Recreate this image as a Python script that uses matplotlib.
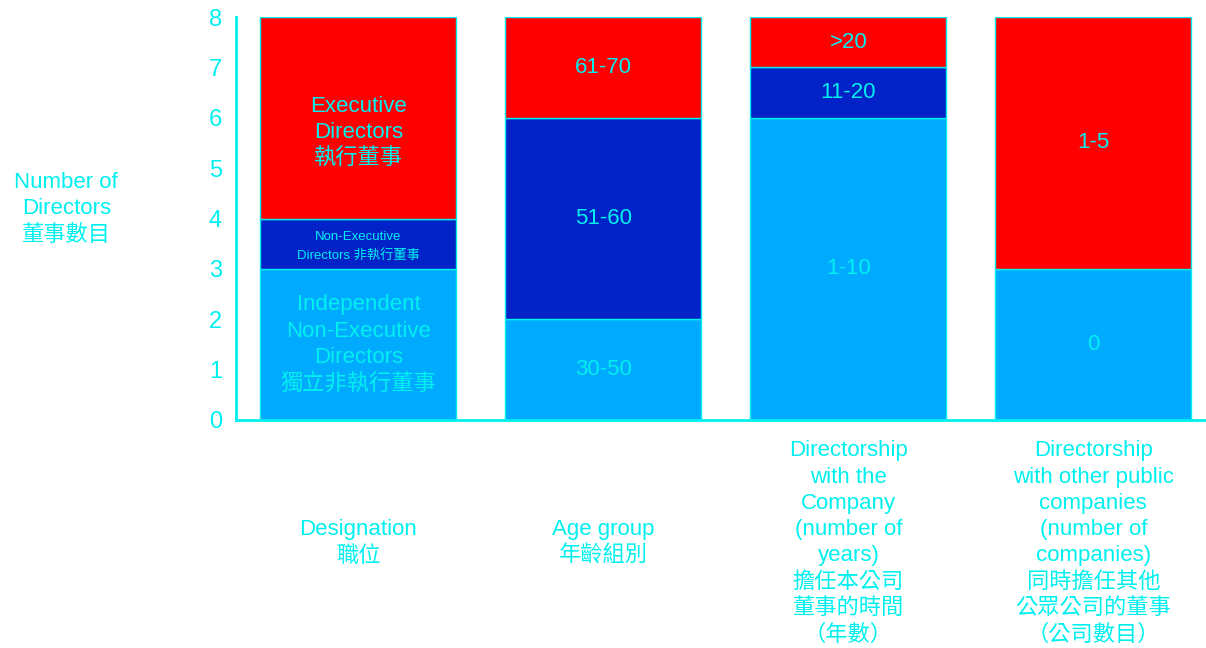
import matplotlib.pyplot as plt
from matplotlib.transforms import blended_transform_factory

plt.rcParams['font.family'] = ['Liberation Sans', 'Noto Sans CJK TC', 'DejaVu Sans']

# Datos del gráfico
categorias = ['Designation\n職位',
              'Age group\n年齡組別',
              'Directorship\nwith the\nCompany\n(number of\nyears)\n擔任本公司\n董事的時間\n（年數）',
              'Directorship\nwith other public\ncompanies\n(number of\ncompanies)\n同時擔任其他\n公眾公司的董事\n（公司數目）']
inferior = [3, 2, 6, 3]
medio = [1, 4, 1, 0]
superior = [4, 2, 1, 5]
etiq_inferior = ['Independent\nNon-Executive\nDirectors\n獨立非執行董事', '30-50', '1-10', '0']
etiq_medio = ['Non-Executive\nDirectors 非執行董事', '51-60', '11-20', '']
etiq_superior = ['Executive\nDirectors\n執行董事', '61-70', '>20', '1-5']

cian = '#00F0F0'
azul_claro = '#00AAFF'
azul_oscuro = '#0022C6'
rojo = '#FF0000'

fig = plt.figure(figsize=(12.06, 6.48), dpi=100)
ax = fig.add_axes([236 / 1206, 228 / 648, 970 / 1206, 403 / 648])

x = list(range(len(categorias)))
ancho = 0.8
base_medio = inferior
base_sup = [a + b for a, b in zip(inferior, medio)]

ax.bar(x, inferior, ancho, color=azul_claro, edgecolor=cian, linewidth=1)
ax.bar(x, medio, ancho, bottom=base_medio, color=azul_oscuro, edgecolor=cian, linewidth=1)
ax.bar(x, superior, ancho, bottom=base_sup, color=rojo, edgecolor=cian, linewidth=1)

# Etiquetas dentro de las barras
for i in x:
    ax.text(i, inferior[i] / 2, etiq_inferior[i], ha='center', va='center',
            color=cian, fontsize=16, linespacing=1.33)
    if medio[i] > 0:
        pequeño = i == 0
        ax.text(i, base_medio[i] + medio[i] / 2 - (0.05 if pequeño else 0), etiq_medio[i],
                ha='center', va='center', color=cian,
                fontsize=9.5 if pequeño else 16, linespacing=1.6 if pequeño else 1.33)
    desplaz = -0.3 if i == 0 else 0
    ax.text(i, base_sup[i] + superior[i] / 2 + desplaz, etiq_superior[i], ha='center', va='center',
            color=cian, fontsize=16, linespacing=1.33)

# Etiquetas de categorías debajo del eje
trans = blended_transform_factory(ax.transData, ax.transAxes)
for i in x:
    ax.text(i, -0.305, categorias[i], transform=trans, ha='center', va='center',
            color=cian, fontsize=16, linespacing=1.33)

ax.set_xlim(-0.5, 3.46)
ax.set_ylim(0, 8)
ax.set_xticks([])
ax.set_yticks(range(0, 9))
ax.tick_params(axis='y', length=0, pad=10, labelsize=17, labelcolor=cian)

ax.set_ylabel('Number of\nDirectors\n董事數目', rotation=0, ha='center', va='center',
              color=cian, fontsize=16, linespacing=1.33)
ax.yaxis.set_label_coords(-0.175, 0.524)

for lado in ['top', 'right']:
    ax.spines[lado].set_visible(False)
for lado in ['left', 'bottom']:
    ax.spines[lado].set_color(cian)
    ax.spines[lado].set_linewidth(2)

fig.savefig('out.png', dpi=100)
